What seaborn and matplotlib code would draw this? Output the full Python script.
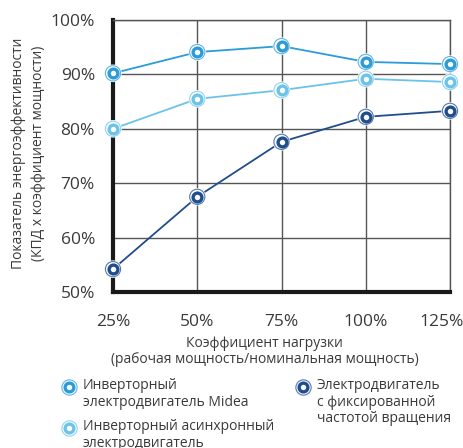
import pandas as pd
import matplotlib.pyplot as plt
import seaborn as sns
from matplotlib.lines import Line2D
from matplotlib.ticker import FuncFormatter
from matplotlib.transforms import ScaledTranslation

load = [25, 50, 75, 100, 125]
midea = [90.2, 94.1, 95.2, 92.3, 91.9]
async_inv = [80.0, 85.5, 87.1, 89.2, 88.6]
fixed = [54.2, 67.5, 77.6, 82.2, 83.3]

names = ["Инверторный\nэлектродвигатель Midea",
         "Инверторный асинхронный\nэлектродвигатель",
         "Электродвигатель\nс фиксированной\nчастотой вращения"]
colors = ["#2b9bd9", "#6cc3ea", "#1f4d8d"]

df = pd.DataFrame({
    "load": load * 3,
    "value": midea + async_inv + fixed,
    "series": [names[0]] * 5 + [names[1]] * 5 + [names[2]] * 5,
})

sns.set_theme(style="white")
plt.rcParams['font.family'] = ['Open Sans', 'DejaVu Sans']
text_color = "#3a3a3a"
W, H = 464, 448

fig = plt.figure(figsize=(4.64, 4.48), dpi=100)
ax = fig.add_axes([113 / W, 1 - 292 / H, 337 / W, 272 / H])

sns.lineplot(data=df, x="load", y="value", hue="series", palette=colors,
             linewidth=1.3, legend=False, ax=ax, zorder=3)

# ring markers: white backing, thin halo, colored ring with white center
for name, c in zip(names, colors):
    sub = df[df["series"] == name]
    ax.scatter(sub["load"], sub["value"], s=160, facecolors="white",
               edgecolors="none", zorder=4, clip_on=False)
    ax.scatter(sub["load"], sub["value"], s=120, facecolors="none",
               edgecolors=c, linewidths=0.8, alpha=0.75, zorder=5, clip_on=False)
    ax.scatter(sub["load"], sub["value"], s=40, facecolors="white",
               edgecolors=c, linewidths=2.4, zorder=6, clip_on=False)

ax.set_xlim(25, 125)
ax.set_ylim(50, 100)
ax.set_xticks(load)
ax.set_yticks([50, 60, 70, 80, 90, 100])
ax.xaxis.set_major_formatter(FuncFormatter(lambda v, p: f"{int(v)}%"))
ax.yaxis.set_major_formatter(FuncFormatter(lambda v, p: f"{int(v)}%"))
ax.grid(True, color="#555555", linewidth=1.0)
ax.set_axisbelow(True)
ax.tick_params(axis="x", length=0, pad=16, labelsize=12.5, labelcolor=text_color)
ax.tick_params(axis="y", length=0, pad=13, labelsize=12.5, labelcolor=text_color)
# last x label is pulled in so it stays inside the figure
last = ax.get_xticklabels()[-1]
last.set_transform(last.get_transform() + ScaledTranslation(-8 / 100, 0, fig.dpi_scale_trans))

for side in ["top", "right"]:
    ax.spines[side].set_color("#555555")
    ax.spines[side].set_linewidth(1.0)
for side in ["left", "bottom"]:
    ax.spines[side].set_color("#1a1a1a")
    ax.spines[side].set_linewidth(3.0)

ax.set_xlabel("Коэффициент нагрузки\n(рабочая мощность/номинальная мощность)",
              fontsize=10, color=text_color, linespacing=1.1)
ax.xaxis.set_label_coords(0.45, -0.16)
ax.set_ylabel("Показатель энергоэффективности\n(КПД x коэффициент мощности)",
              fontsize=10, color=text_color, linespacing=1.4)
ax.yaxis.set_label_coords(-0.2, 0.51)

# legend laid out by hand: markers aligned with the first text line
legend_pos = [(69, 387), (69, 428), (303, 387)]
for (px, py), name, c in zip(legend_pos, names, colors):
    fx, fy = px / W, 1 - py / H
    fig.add_artist(Line2D([fx], [fy], linestyle="none", marker="o", markersize=11,
                          markerfacecolor="none", markeredgecolor=c,
                          markeredgewidth=0.8, alpha=0.75))
    fig.add_artist(Line2D([fx], [fy], linestyle="none", marker="o", markersize=6.3,
                          markerfacecolor="white", markeredgecolor=c,
                          markeredgewidth=2.4))
    fig.text(fx + 14 / W, fy + 9 / H, name, ha="left", va="top", fontsize=10,
             color=text_color, linespacing=1.15)

fig.savefig("out.png", dpi=100)
